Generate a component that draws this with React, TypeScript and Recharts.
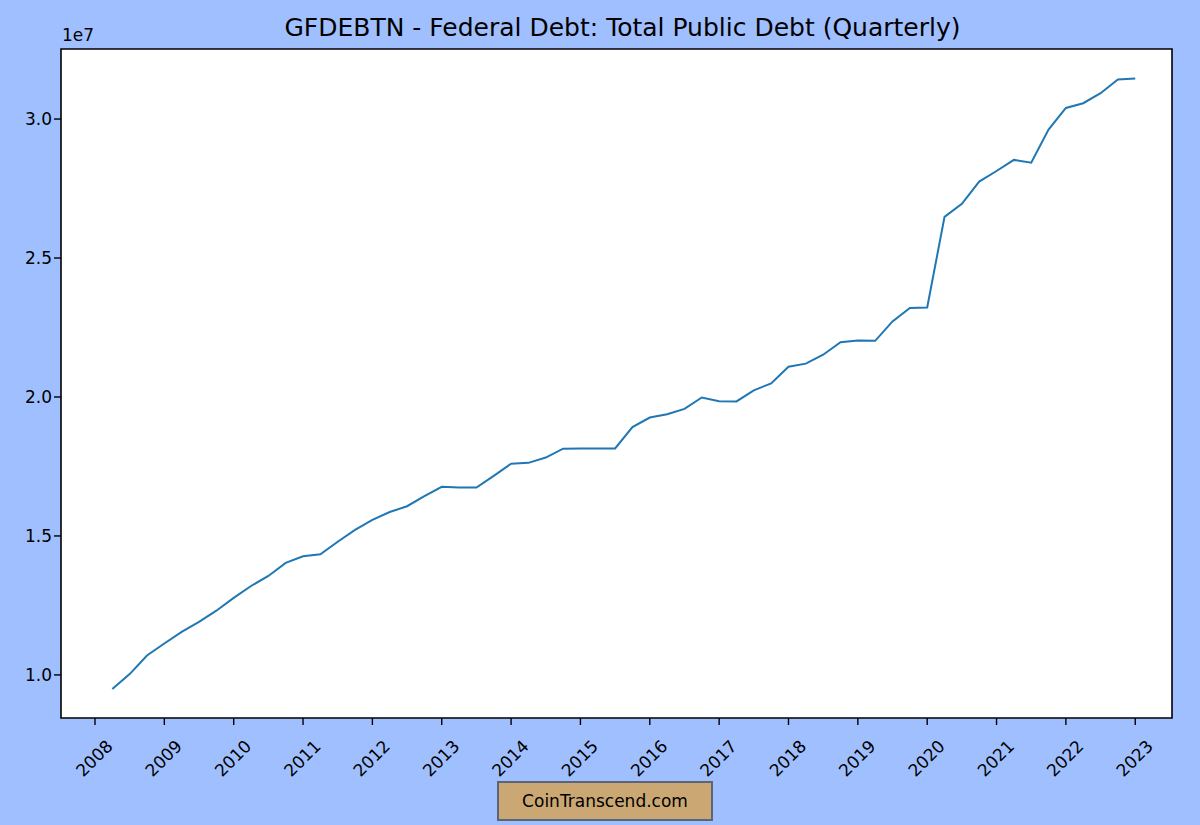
import React from 'react';
import { LineChart, Line, XAxis, YAxis, ReferenceArea } from 'recharts';

const FONT = '"DejaVu Sans", sans-serif';
const BG = '#A0BFFF';

// quarter position in decimal years
const quarters = [
    2008.25, 2008.5, 2008.75,
    2009, 2009.25, 2009.5, 2009.75,
    2010, 2010.25, 2010.5, 2010.75,
    2011, 2011.25, 2011.5, 2011.75,
    2012, 2012.25, 2012.5, 2012.75,
    2013, 2013.25, 2013.5, 2013.75,
    2014, 2014.25, 2014.5, 2014.75,
    2015, 2015.25, 2015.5, 2015.75,
    2016, 2016.25, 2016.5, 2016.75,
    2017, 2017.25, 2017.5, 2017.75,
    2018, 2018.25, 2018.5, 2018.75,
    2019, 2019.25, 2019.5, 2019.75,
    2020, 2020.25, 2020.5, 2020.75,
    2021, 2021.25, 2021.5, 2021.75,
    2022, 2022.25, 2022.5, 2022.75,
    2023,
];

// millions of dollars
const debt = [
    9490000, 10030000, 10700000,
    11130000, 11550000, 11910000, 12310000,
    12770000, 13200000, 13560000, 14030000,
    14270000, 14340000, 14790000, 15220000,
    15580000, 15860000, 16070000, 16430000,
    16770000, 16740000, 16740000, 17160000,
    17600000, 17630000, 17820000, 18140000,
    18150000, 18150000, 18150000, 18920000,
    19260000, 19380000, 19570000, 19980000,
    19850000, 19840000, 20240000, 20490000,
    21090000, 21200000, 21520000, 21970000,
    22030000, 22020000, 22720000, 23200000,
    23220000, 26480000, 26950000, 27750000,
    28130000, 28530000, 28430000, 29620000,
    30400000, 30570000, 30930000, 31420000,
    31460000,
];

const yearTicks = [2008, 2009, 2010, 2011, 2012, 2013, 2014, 2015, 2016, 2017, 2018, 2019, 2020, 2021, 2022, 2023];
const valueTicks = [10000000, 15000000, 20000000, 25000000, 30000000];

const xDomain = [2007.51, 2023.53];
const yDomain = [8450000, 32520000];

const chartData = quarters.map((q, i) => ({ q, debt: debt[i] }));

const YearTick = ({ x, y, payload }: any) => (
    <text
        x={x}
        y={y + 32}
        fontFamily={FONT}
        fontSize={17}
        fill="#000"
        textAnchor="middle"
        dominantBaseline="middle"
        transform={`rotate(-45 ${x} ${y + 32})`}
    >
        {payload.value}
    </text>
);

export default function App() {
    return (
        <div style={{ position: 'fixed', left: 0, top: 0, width: 1200, height: 825, background: BG, overflow: 'hidden' }}>
            <div style={{ position: 'absolute', left: 0, width: 1245, top: 10, textAlign: 'center', fontFamily: FONT, fontSize: 25, lineHeight: '36px', color: '#000' }}>
                GFDEBTN - Federal Debt: Total Public Debt (Quarterly)
            </div>
            <div style={{ position: 'absolute', left: 62, top: 25, fontFamily: FONT, fontSize: 17, lineHeight: '20px', color: '#000' }}>
                1e7
            </div>
            <LineChart width={1200} height={825} data={chartData} margin={{ top: 49, right: 28, bottom: 0, left: 0 }}>
                <XAxis
                    dataKey="q"
                    type="number"
                    domain={xDomain}
                    ticks={yearTicks}
                    interval={0}
                    allowDataOverflow
                    height={107}
                    axisLine={false}
                    tickLine={{ stroke: '#000', strokeWidth: 1.4 }}
                    tickSize={7}
                    tick={YearTick}
                />
                <YAxis
                    type="number"
                    domain={yDomain}
                    ticks={valueTicks}
                    interval={0}
                    allowDataOverflow
                    width={61}
                    axisLine={false}
                    tickLine={{ stroke: '#000', strokeWidth: 1.4 }}
                    tickSize={7}
                    tickFormatter={(v: number) => (v / 10000000).toFixed(1)}
                    tick={{ fontFamily: FONT, fontSize: 17, fill: '#000' }}
                />
                <ReferenceArea
                    x1={xDomain[0]}
                    x2={xDomain[1]}
                    y1={yDomain[0]}
                    y2={yDomain[1]}
                    fill="#fff"
                    fillOpacity={1}
                    stroke="#000"
                    strokeWidth={1.6}
                    strokeOpacity={1}
                />
                <Line
                    dataKey="debt"
                    stroke="#1f77b4"
                    strokeWidth={2}
                    dot={false}
                    type="linear"
                    isAnimationActive={false}
                />
            </LineChart>
            <div
                style={{
                    position: 'absolute',
                    left: 497,
                    top: 781,
                    width: 216,
                    height: 40,
                    boxSizing: 'border-box',
                    background: '#CBA873',
                    border: '2px solid #5C6478',
                    fontFamily: FONT,
                    fontSize: 17,
                    lineHeight: '36px',
                    textAlign: 'center',
                    color: '#000',
                }}
            >
                CoinTranscend.com
            </div>
        </div>
    );
}
